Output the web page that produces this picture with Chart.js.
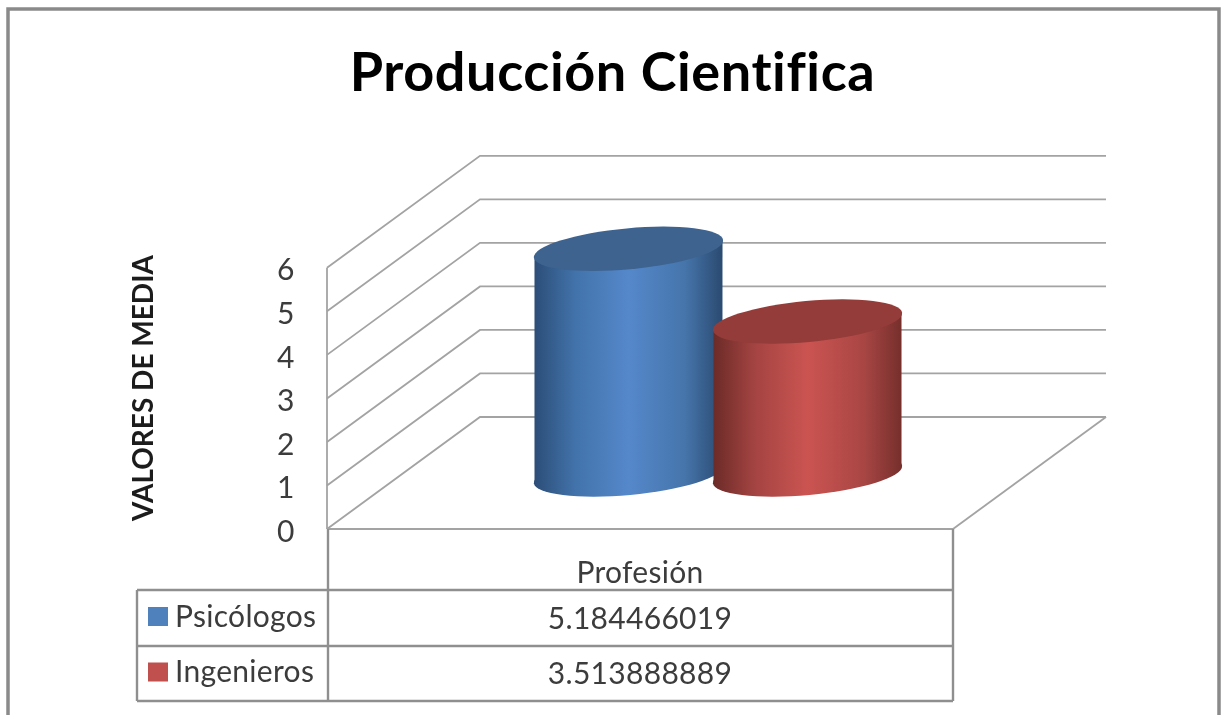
<!DOCTYPE html>
<html>
<head>
<meta charset="utf-8">
<title>Producción Científica</title>
<script src="https://cdn.jsdelivr.net/npm/chart.js@4"></script>
<style>
  html, body { margin: 0; padding: 0; background: #fff; }
  canvas { display: block; }
</style>
</head>
<body>
<canvas id="chart" width="1225" height="715"></canvas>
<script>
const categories = ['Profesión'];
const seriesNames = ['Psicólogos', 'Ingenieros'];
const psicologos = [5.184466019];
const ingenieros = [3.513888889];
const axisMax = 6;
const axisTitle = 'VALORES DE MEDIA';
const chartTitle = 'Producción Cientifica';

const FONT = 'Lato, sans-serif';
const LINE = '#a3a3a3';
const TABLE_LINE = '#8f8f8f';
const TEXT = '#3c3c3c';

// how far the back wall sits from the front plane
const DEPTH_X = 153;
const DEPTH_Y = 112;
// where the cylinders stand on the floor
const FLOOR_X = 78;
const FLOOR_Y = 54.5;

const palettes = [
  { swatch: '#4f81bd', top: '#3e638f', side: ['#2c4e78', '#4273ab', '#5588cb', '#4675ab', '#2a4a70'] },
  { swatch: '#c0504d', top: '#943c39', side: ['#6c2b28', '#a44442', '#cb5451', '#a84644', '#762f2c'] }
];

function segment(ctx, x1, y1, x2, y2) {
  ctx.beginPath();
  ctx.moveTo(x1, y1);
  ctx.lineTo(x2, y2);
  ctx.stroke();
}

function drawWalls(chart) {
  const ctx = chart.ctx;
  const y = chart.scales.y;
  const { left, right } = chart.chartArea;
  const zero = y.getPixelForValue(0);
  ctx.strokeStyle = LINE;
  ctx.lineWidth = 1.8;
  y.ticks.forEach(t => {
    const py = y.getPixelForValue(t.value);
    ctx.beginPath();
    ctx.moveTo(left, py);
    ctx.lineTo(left + DEPTH_X, py - DEPTH_Y);
    ctx.lineTo(right + DEPTH_X, py - DEPTH_Y);
    ctx.stroke();
  });
  segment(ctx, right + DEPTH_X, zero - DEPTH_Y, right, zero);
  segment(ctx, left, y.getPixelForValue(axisMax), left, zero);
  segment(ctx, left, zero, right, zero);
}

function drawCylinder(ctx, bar, colors) {
  const halfW = bar.width / 2;
  const cx = bar.x + FLOOR_X;
  const topY = bar.y - FLOOR_Y;
  const baseY = bar.base - FLOOR_Y;
  const major = halfW + 1;
  const minor = 20.5;
  const tilt = -0.092;
  const edge = 8.5;

  const grad = ctx.createLinearGradient(cx - halfW, 0, cx + halfW, 0);
  [0, 0.22, 0.5, 0.8, 1].forEach((stop, i) => grad.addColorStop(stop, colors.side[i]));

  ctx.fillStyle = grad;
  ctx.beginPath();
  ctx.ellipse(cx, baseY, major, minor, tilt, 0, Math.PI * 2);
  ctx.fill();
  ctx.beginPath();
  ctx.moveTo(cx - halfW, topY + edge);
  ctx.lineTo(cx + halfW, topY - edge);
  ctx.lineTo(cx + halfW, baseY - edge);
  ctx.lineTo(cx - halfW, baseY + edge);
  ctx.closePath();
  ctx.fill();

  ctx.fillStyle = colors.top;
  ctx.beginPath();
  ctx.ellipse(cx, topY, major, minor, tilt, 0, Math.PI * 2);
  ctx.fill();
}

function drawTable(chart) {
  const ctx = chart.ctx;
  const { left, right, bottom } = chart.chartArea;
  const mid = (left + right) / 2;
  const tableLeft = 137;
  const rows = [bottom + 61, bottom + 117, bottom + 172];

  ctx.strokeStyle = TABLE_LINE;
  ctx.lineWidth = 2.4;
  segment(ctx, left + 1, bottom, left + 1, rows[2]);
  segment(ctx, right, bottom, right, rows[2]);
  segment(ctx, tableLeft, rows[0], tableLeft, rows[2]);
  rows.forEach(r => segment(ctx, tableLeft, r, right, r));

  ctx.font = '30px ' + FONT;
  ctx.letterSpacing = '0.3px';
  ctx.fillStyle = TEXT;
  ctx.textBaseline = 'middle';
  ctx.textAlign = 'center';
  ctx.fillText(categories[0], mid, bottom + 44);

  chart.data.datasets.forEach((ds, i) => {
    const rowMid = (rows[i] + rows[i + 1]) / 2;
    ctx.fillStyle = TEXT;
    ctx.textAlign = 'center';
    ctx.fillText(ds.data[0].toFixed(9), mid, rowMid + 1);
    ctx.textAlign = 'left';
    ctx.fillText(ds.label, tableLeft + 38, rowMid - 1);
    ctx.fillStyle = palettes[i].swatch;
    ctx.fillRect(tableLeft + 11, rowMid - 11, 20, 19);
  });
}

const sceneryPlugin = {
  id: 'scenery',
  beforeDraw(chart) {
    const ctx = chart.ctx;
    // a little tracking also keeps the "fi" of the title unligatured
    ctx.letterSpacing = '0.6px';
    ctx.save();
    ctx.strokeStyle = '#8a8a8a';
    ctx.lineWidth = 3.5;
    ctx.beginPath();
    ctx.moveTo(8, 715);
    ctx.lineTo(8, 9);
    ctx.lineTo(1219, 9);
    ctx.lineTo(1219, 715);
    ctx.stroke();
    ctx.restore();
  },
  beforeDatasetsDraw(chart) {
    const ctx = chart.ctx;
    ctx.save();
    drawWalls(chart);
    // psicólogos first so the red cylinder overlaps it
    chart.data.datasets.forEach((ds, i) => {
      chart.getDatasetMeta(i).data.forEach(bar => drawCylinder(ctx, bar, palettes[i]));
    });
    ctx.restore();
    return false;
  },
  afterDraw(chart) {
    const ctx = chart.ctx;
    ctx.save();
    drawTable(chart);
    ctx.translate(144, 388);
    ctx.rotate(-Math.PI / 2);
    ctx.font = 'bold 28px ' + FONT;
    ctx.letterSpacing = '0px';
    ctx.fillStyle = '#1c1c1c';
    ctx.textAlign = 'center';
    ctx.textBaseline = 'middle';
    ctx.fillText(axisTitle, 0, 0);
    ctx.restore();
  }
};

new Chart(document.getElementById('chart'), {
  type: 'bar',
  data: {
    labels: categories,
    datasets: [
      { label: seriesNames[0], data: psicologos, backgroundColor: palettes[0].swatch },
      { label: seriesNames[1], data: ingenieros, backgroundColor: palettes[1].swatch }
    ]
  },
  options: {
    responsive: false,
    animation: false,
    categoryPercentage: 0.572,
    barPercentage: 1.05,
    layout: { padding: { left: 0, top: 0, right: 0, bottom: 186 } },
    plugins: {
      legend: { display: false },
      tooltip: { enabled: false },
      title: {
        display: true,
        text: chartTitle,
        color: '#000',
        font: { family: FONT, size: 54, weight: 'bold' },
        padding: { top: 41, bottom: 162 }
      }
    },
    scales: {
      x: { display: false },
      y: {
        min: 0,
        max: axisMax,
        afterFit(scale) { scale.width = 327; },
        border: { display: false },
        grid: { display: false, drawTicks: false },
        ticks: { stepSize: 1, padding: 32, labelOffset: 3, color: TEXT, font: { family: FONT, size: 30 } }
      },
      // empty axis that reserves the margin right of the front plane
      margin: {
        position: 'right',
        afterFit(scale) { scale.width = 272; },
        border: { display: false },
        grid: { display: false, drawTicks: false },
        ticks: { display: false }
      }
    }
  },
  plugins: [sceneryPlugin]
});
</script>
</body>
</html>
